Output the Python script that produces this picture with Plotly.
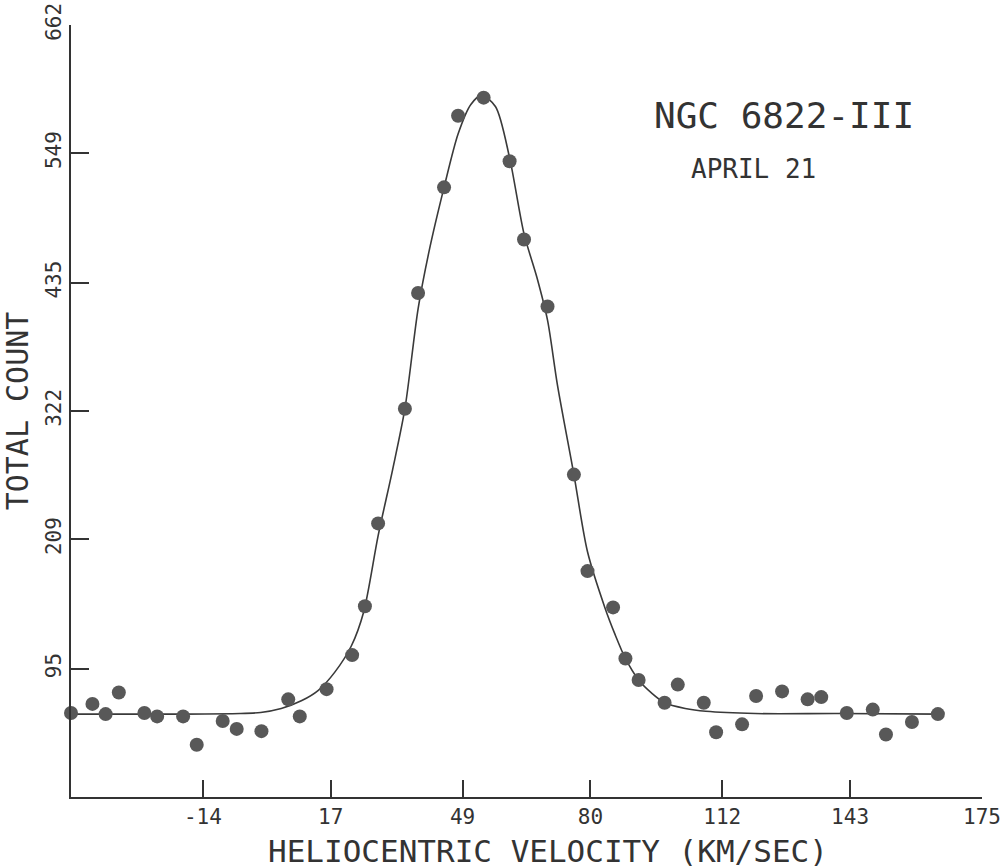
import plotly.graph_objects as go

# Observed points (heliocentric velocity km/s, total count)
velocity = [-46.0, -40.8, -37.6, -34.4, -28.2, -25.1, -18.8, -15.5, -9.2, -5.8,
            0.2, 6.7, 9.5, 16.0, 22.2, 25.3, 28.5, 35.0, 38.2, 44.5,
            47.9, 54.1, 60.4, 63.9, 69.6, 76.0, 79.3, 85.5, 88.5, 91.7,
            98.0, 101.2, 107.5, 110.5, 116.8, 120.2, 126.5, 132.7, 136.0, 142.2,
            148.5, 151.7, 158.0, 164.3]
counts = [56, 64, 55, 74, 56, 53, 53, 28, 49, 42,
          40, 68, 53, 77, 107, 150, 223, 324, 426, 519,
          582, 598, 542, 473, 414, 266, 181, 149, 104, 85,
          65, 81, 65, 39, 46, 71, 75, 68, 70, 56,
          59, 37, 48, 55]

# Fitted curve
fit_v = [-46, -30, -20, -5, 0, 5, 10, 14, 18, 22, 25, 28.5, 32, 35, 38.2, 41,
         44.5, 47.9, 51, 53.6, 57, 60.4, 63.9, 67, 69.6, 72, 76, 79.3, 83.5, 86,
         88.5, 91.7, 95, 98, 103, 108, 120, 140, 165]
fit_c = [55, 55, 55, 55.5, 56.5, 60, 67, 76, 92, 115, 145, 212, 270, 324, 412, 465,
         519, 566, 592, 600, 590, 545, 478, 440, 402, 345, 266, 198, 149, 125,
         104, 85, 73, 65, 60, 57.5, 55.5, 55.5, 55]

x_ticks = [-14, 17, 49, 80, 112, 143, 175]
y_ticks = [95, 209, 322, 435, 549, 662]

FONT = "DejaVu Sans Mono"
INK = "#333333"

fig = go.Figure()
fig.add_trace(go.Scatter(x=fit_v, y=fit_c, mode="lines",
                         line=dict(color="#3a3a3a", width=1.6, shape="spline", smoothing=0.8),
                         hoverinfo="skip", showlegend=False))
fig.add_trace(go.Scatter(x=velocity, y=counts, mode="markers",
                         marker=dict(size=14, color="#585858", line=dict(width=0)),
                         cliponaxis=False, showlegend=False))

fig.update_layout(
    width=1008, height=868,
    margin=dict(l=71, r=26, t=25, b=71),
    paper_bgcolor="white", plot_bgcolor="white",
    font=dict(family=FONT, color=INK),
    xaxis=dict(range=[-46, 175], tickvals=x_ticks, ticktext=[str(v) for v in x_ticks],
               automargin=False,
               showgrid=False, zeroline=False, showline=True, linecolor="#333", linewidth=1.5,
               ticks="inside", ticklen=17, tickwidth=1.5, tickcolor="#333",
               tickfont=dict(size=21, family=FONT, color=INK)),
    yaxis=dict(range=[-18, 662], tickvals=y_ticks, ticktext=[str(v) for v in y_ticks],
               automargin=False,
               showgrid=False, zeroline=False, showline=True, linecolor="#333", linewidth=1.5,
               ticks="inside", ticklen=18, tickwidth=1.5, tickcolor="#333", tickangle=-90,
               tickfont=dict(size=21, family=FONT, color=INK),
               title=dict(text="TOTAL COUNT", font=dict(size=30, family=FONT, color=INK), standoff=6)),
    annotations=[
        dict(x=0.5236, y=-0.07, xref="paper", yref="paper", text="HELIOCENTRIC VELOCITY (KM/SEC)",
             showarrow=False, xanchor="center", yanchor="middle",
             font=dict(size=31, family=FONT, color=INK)),
        dict(x=127, y=582, xref="x", yref="y", text="NGC 6822-III", showarrow=False,
             font=dict(size=36, family=FONT, color=INK)),
        dict(x=119.5, y=535, xref="x", yref="y", text="APRIL 21", showarrow=False,
             font=dict(size=26, family=FONT, color=INK)),
    ],
)

fig.write_html("out.html")
